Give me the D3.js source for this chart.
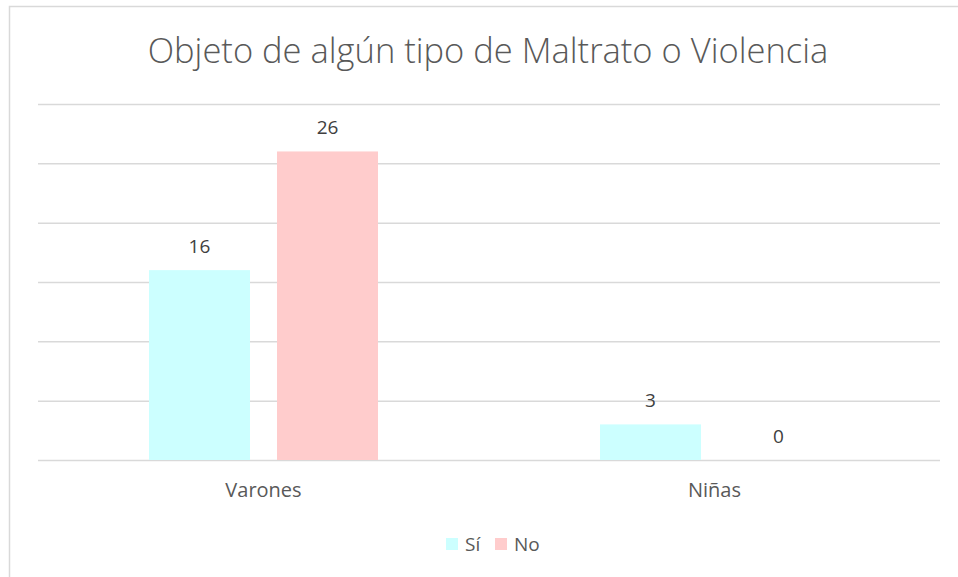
<!DOCTYPE html>
<html>
<head>
<meta charset="utf-8">
<script src="https://cdnjs.cloudflare.com/ajax/libs/d3/7.8.5/d3.min.js"></script>
<style>
  body { margin: 0; background: #fff; }
  svg { display: block; font-family: "Open Sans", sans-serif; }
</style>
</head>
<body>
<div id="chart"></div>
<script>
// chart data
var categories = ["Varones", "Niñas"]
var series = ["Sí", "No"]
var siValues = [16, 3]
var noValues = [26, 0]
var yTicks = [0, 5, 10, 15, 20, 25, 30]
var colors = ["#CCFFFF", "#FFCCCC"]

var data = []
categories.forEach(function (c, i) {
    data.push({ cat: c, serie: "Sí", value: siValues[i] })
    data.push({ cat: c, serie: "No", value: noValues[i] })
})

var W = 958, H = 577
var margin = { top: 104, right: 18, bottom: 117, left: 38 },
    width = W - margin.left - margin.right,
    height = H - margin.top - margin.bottom

var svg = d3.select("#chart")
    .append("svg")
    .attr("width", W)
    .attr("height", H)

// outer border of the chart area
svg.append("rect")
    .attr("x", 9.5)
    .attr("y", 6.5)
    .attr("width", W)
    .attr("height", H)
    .style("fill", "none")
    .style("stroke", "#d9d9d9")
    .style("stroke-width", 1.5)

var g = svg.append("g")
    .attr("transform", "translate(" + margin.left + "," + margin.top + ")")

var x = d3.scaleBand()
    .domain(categories)
    .range([0, width])
    .padding(0)

var xs = d3.scaleBand()
    .domain(series)
    .range([0, x.bandwidth()])
    .paddingInner(0.211)
    .paddingOuter(0.867)

var y = d3.scaleLinear()
    .domain([0, 30])
    .range([height, 0])

// gridlines
g.append("g")
    .call(d3.axisLeft(y).tickValues(yTicks).tickSize(-width).tickFormat(""))
    .call(function (a) { a.select(".domain").remove() })
    .selectAll("line")
    .style("stroke", "#d9d9d9")
    .style("stroke-width", 1.5)

// bars
g.selectAll(".bar")
    .data(data)
    .enter()
    .append("rect")
    .attr("x", function (d) { return x(d.cat) + xs(d.serie) })
    .attr("y", function (d) { return y(d.value) })
    .attr("width", xs.bandwidth())
    .attr("height", function (d) { return height - y(d.value) })
    .style("fill", function (d) { return colors[series.indexOf(d.serie)] })

// value labels
g.selectAll(".lbl")
    .data(data)
    .enter()
    .append("text")
    .attr("x", function (d) { return x(d.cat) + xs(d.serie) + xs.bandwidth() / 2 })
    .attr("y", function (d) { return y(d.value) - 17 })
    .attr("text-anchor", "middle")
    .style("font-size", "19px")
    .style("fill", "#404040")
    .text(function (d) { return d.value })

// category axis
g.append("g")
    .attr("transform", "translate(0," + height + ")")
    .call(d3.axisBottom(x).tickSize(0).tickPadding(23))
    .call(function (a) { a.select(".domain").remove() })
    .selectAll("text")
    .style("font-size", "20px")
    .style("font-family", "Open Sans, sans-serif")
    .style("fill", "#595959")

// title
svg.append("text")
    .attr("x", 488)
    .attr("y", 63)
    .attr("text-anchor", "middle")
    .style("font-size", "34.5px")
    .style("font-weight", 300)
    .style("fill", "#595959")
    .text("Objeto de algún tipo de Maltrato o Violencia")

// legend
var legend = svg.append("g").attr("transform", "translate(446,538)")
var lx = [0, 49]
series.forEach(function (s, i) {
    legend.append("rect")
        .attr("x", lx[i])
        .attr("y", 0)
        .attr("width", 12)
        .attr("height", 12)
        .style("fill", colors[i])
    legend.append("text")
        .attr("x", lx[i] + 19)
        .attr("y", 13)
        .style("font-size", "19px")
        .style("fill", "#595959")
        .text(s)
})
</script>
</body>
</html>
